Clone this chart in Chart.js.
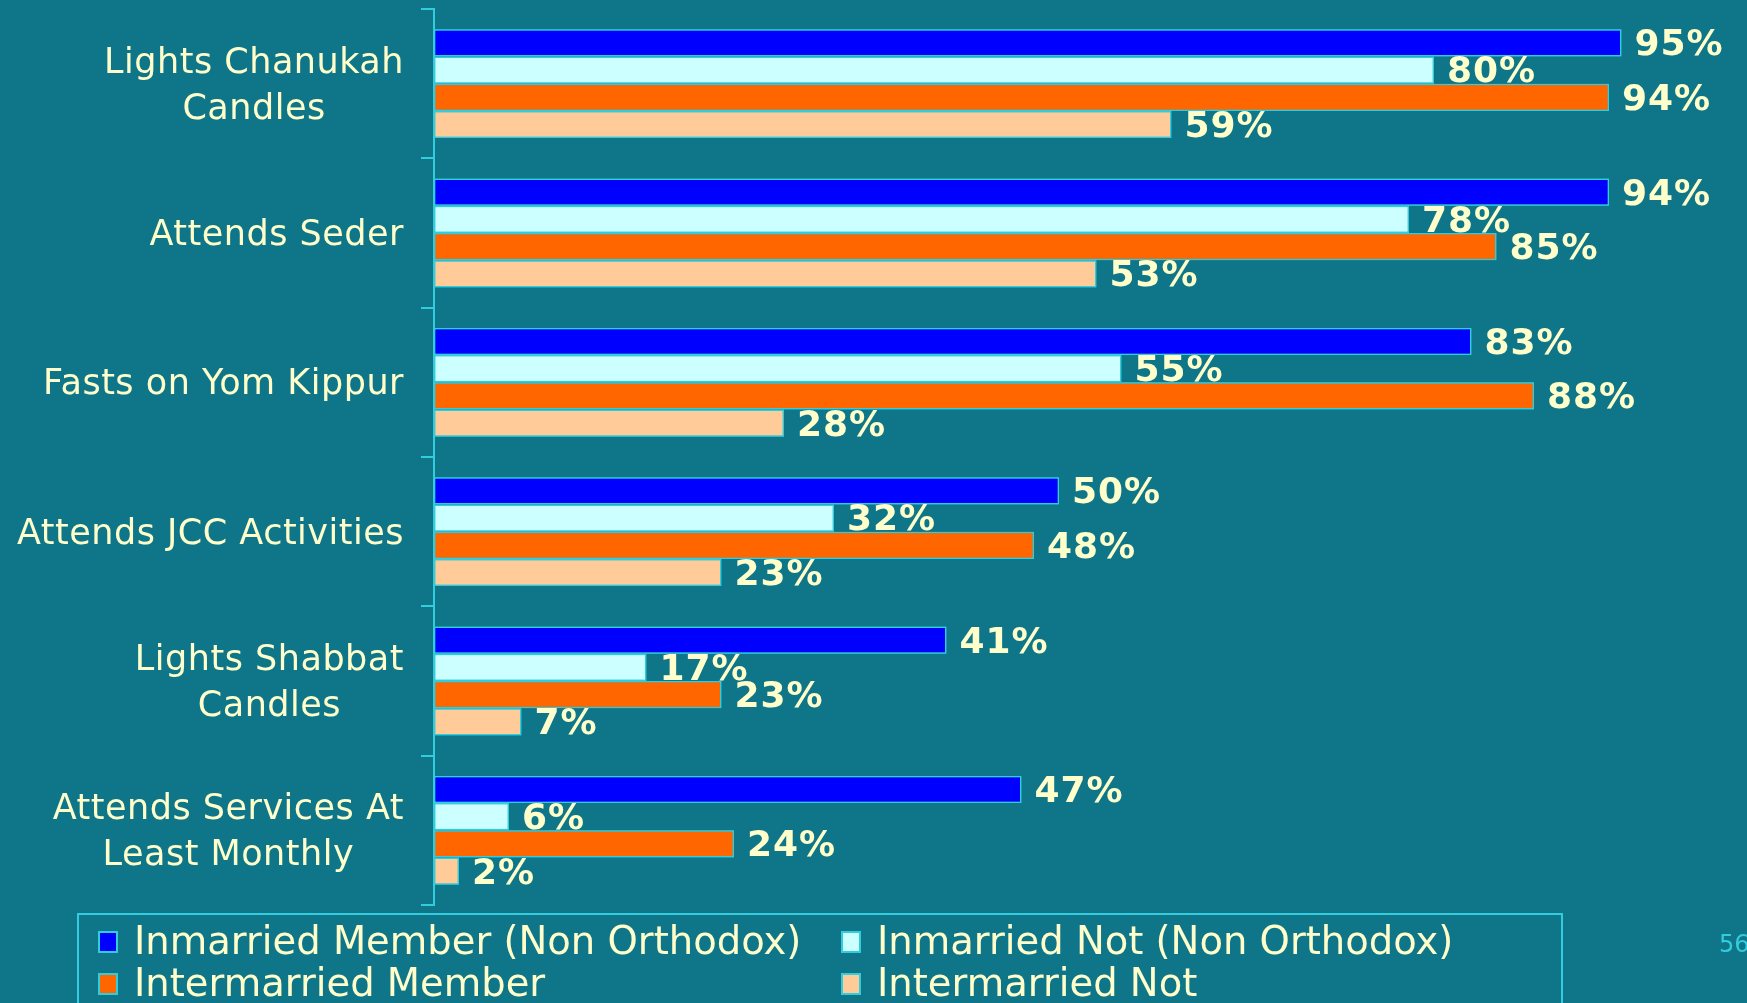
<!DOCTYPE html>
<html><head><meta charset="utf-8">
<script src="https://cdn.jsdelivr.net/npm/chart.js@4/dist/chart.umd.min.js"></script>
<style>html,body{margin:0;padding:0;background:#0F7689;overflow:hidden}#wrap{width:1747px;height:1003px}</style>
</head><body><div id="wrap"><canvas id="c" width="1747" height="1003"></canvas></div>
<script>
const categories = [["Lights Chanukah","Candles"],["Attends Seder"],["Fasts on Yom Kippur"],["Attends JCC Activities"],["Lights Shabbat","Candles"],["Attends Services At","Least Monthly"]];
const seriesNames = ["Inmarried Member (Non Orthodox)","Inmarried Not (Non Orthodox)","Intermarried Member","Intermarried Not"];
const inmarriedMember = [95,94,83,50,41,47];
const inmarriedNot = [80,78,55,32,17,6];
const intermarriedMember = [94,85,88,48,23,24];
const intermarriedNot = [59,53,28,23,7,2];
const seriesColors = ["#0000FF","#CCFFFF","#FF6600","#FFCC99"];
const pageNumber = "56";

const BG = "#0F7689", CYAN = "#33CCDD", CREAM = "#FFFFCC";
const seriesValues = [inmarriedMember, inmarriedNot, intermarriedMember, intermarriedNot];

const overlay = {
  id: 'overlay',
  beforeDraw(chart){
    const ctx = chart.ctx; ctx.save(); ctx.fillStyle = BG; ctx.fillRect(0,0,chart.width,chart.height); ctx.restore();
  },
  afterDatasetsDraw(chart){
    const ctx = chart.ctx;
    for (let i = 0; i < chart.data.datasets.length; i++){
      const meta = chart.getDatasetMeta(i);
      ctx.save();
      meta.data.forEach(el => el.draw(ctx));
      ctx.font = 'bold 36px "DejaVu Sans"';
      ctx.letterSpacing = '1px';
      ctx.fillStyle = CREAM;
      ctx.textAlign = 'left'; ctx.textBaseline = 'middle';
      meta.data.forEach((el, j) => {
        ctx.fillText(chart.data.datasets[i].data[j] + '%', el.x + 13, el.y + 3);
      });
      ctx.restore();
    }
  },
  afterDraw(chart){
    const ctx = chart.ctx;
    const y = chart.scales.y;
    ctx.save();
    // category labels
    ctx.font = '35px "DejaVu Sans"';
    ctx.letterSpacing = '0.5px';
    ctx.fillStyle = CREAM; ctx.textAlign = 'center'; ctx.textBaseline = 'middle';
    const right = y.right - 30;
    categories.forEach((lines, i) => {
      const cy = y.getPixelForValue(i);
      const w = Math.max(...lines.map(l => ctx.measureText(l).width));
      const cx = right - w/2;
      const lh = 46;
      lines.forEach((l, k) => {
        ctx.fillText(l, cx, cy + (k - (lines.length-1)/2) * lh + 3);
      });
    });
    ctx.letterSpacing = '0px';
    // legend
    ctx.strokeStyle = CYAN; ctx.lineWidth = 2;
    ctx.strokeRect(78, 914, 1484, 120);
    ctx.font = '38.5px "DejaVu Sans"';
    ctx.textAlign = 'left';
    const colX = [98, 841], rowY = [942, 984];
    chart.data.datasets.forEach((ds, i) => {
      const x = colX[i % 2], ry = rowY[Math.floor(i/2)];
      ctx.fillStyle = ds.backgroundColor;
      ctx.fillRect(x, ry - 11, 20, 22);
      ctx.strokeStyle = CYAN; ctx.lineWidth = 2;
      ctx.strokeRect(x + 1, ry - 10, 18, 20);
      ctx.fillStyle = CREAM;
      ctx.fillText(ds.label, x + 36, ry + 2);
    });
    // page number
    ctx.font = '24px "DejaVu Sans"';
    ctx.fillStyle = CYAN;
    ctx.fillText(pageNumber, 1719, 946);
    ctx.restore();
  }
};

new Chart(document.getElementById('c'), {
  type: 'bar',
  data: {
    labels: categories,
    datasets: seriesNames.map((name, i) => ({
      label: name,
      data: seriesValues[i],
      backgroundColor: seriesColors[i],
      borderColor: CYAN,
      borderWidth: 1.5,
      borderSkipped: false,
      barPercentage: 1,
      categoryPercentage: 0.729
    }))
  },
  options: {
    indexAxis: 'y',
    responsive: false,
    animation: false,
    devicePixelRatio: 1,
    layout: { padding: { left: 0, top: 9, right: 63, bottom: 98 } },
    plugins: { legend: { display: false }, tooltip: { enabled: false } },
    scales: {
      x: { display: false, min: 0, max: 100 },
      y: {
        afterFit(s){ s.width = 434; },
        ticks: { display: false },
        grid: { offset: true, drawOnChartArea: false, drawTicks: true, tickLength: 13, color: CYAN, lineWidth: 2 },
        border: { display: true, color: CYAN, width: 2 }
      }
    }
  },
  plugins: [overlay]
});
</script></body></html>
